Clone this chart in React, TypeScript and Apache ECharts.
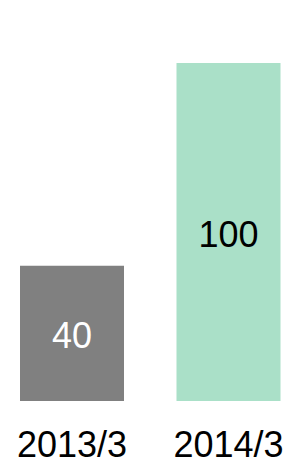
import React, { useEffect, useRef } from "react";
import * as echarts from "echarts";

const categories = ["2013/3", "2014/3"];
const values = [40, 100];
const barColors = ["#808080", "#aae0c8"];
const labelColors = ["#ffffff", "#000000"];

export default function App() {
  const ref = useRef<HTMLDivElement>(null);
  useEffect(() => {
    if (!ref.current) return;
    const chart = echarts.init(ref.current, null, { renderer: "svg" });
    chart.setOption({
      animation: false,
      backgroundColor: "#ffffff",
      grid: {
        left: 72,
        right: 54.5,
        top: 63,
        bottom: 60,
        containLabel: false,
        outerBoundsMode: "none",
      },
      xAxis: {
        type: "category",
        data: categories,
        boundaryGap: false,
        axisLine: { show: false },
        axisTick: { show: false },
        axisLabel: {
          interval: 0,
          margin: 28,
          fontSize: 36,
          lineHeight: 30,
          color: "#000000",
          fontFamily: "Liberation Sans, Arial, sans-serif",
        },
      },
      yAxis: {
        type: "value",
        min: 0,
        max: 100,
        show: false,
        splitLine: { show: false },
      },
      series: [
        {
          type: "bar",
          barWidth: 104,
          clip: false,
          data: values.map((v, i) => ({
            value: v,
            itemStyle: { color: barColors[i] },
            label: { color: labelColors[i] },
          })),
          label: {
            show: true,
            position: "inside",
            offset: [0, 2],
            fontSize: 36,
            fontFamily: "Liberation Sans, Arial, sans-serif",
          },
        },
      ],
    });
    return () => chart.dispose();
  }, []);
  return (
    <div
      ref={ref}
      style={{ position: "absolute", left: 0, top: 0, width: 283, height: 461 }}
    />
  );
}
